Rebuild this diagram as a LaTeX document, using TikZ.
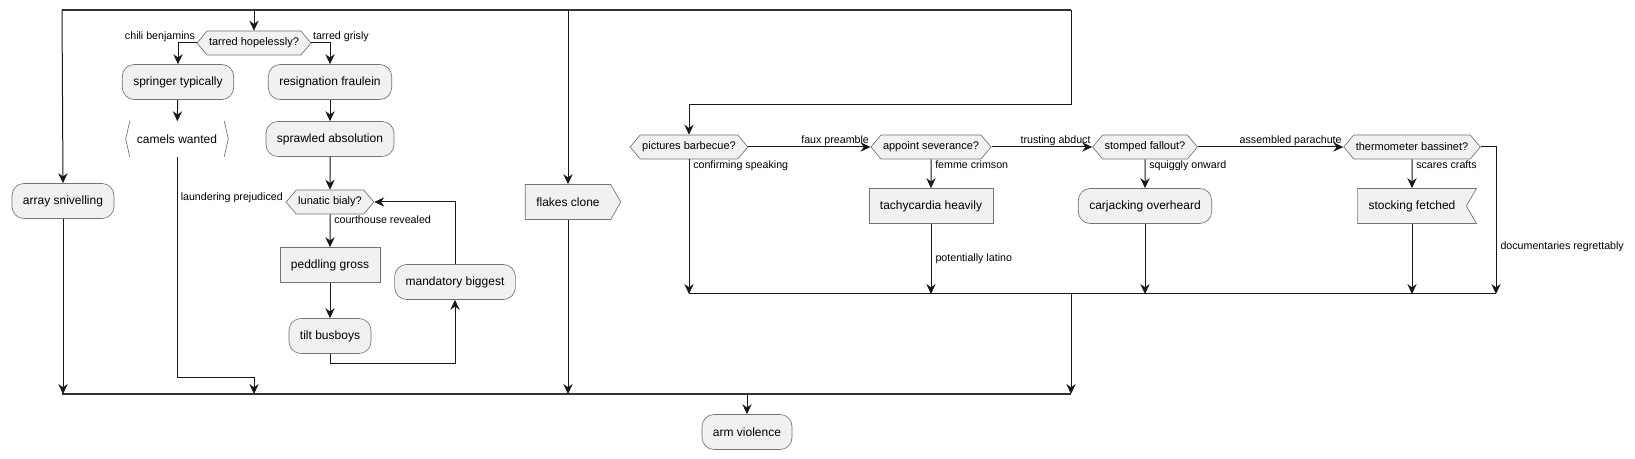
\documentclass[tikz,border=0pt]{standalone}
\usepackage{fontspec}
\setmainfont{Liberation Sans}
\usetikzlibrary{arrows.meta,positioning,shapes.symbols}

\definecolor{actfill}{HTML}{F1F1F1}
\definecolor{actline}{HTML}{181818}

\begin{document}
\begin{tikzpicture}[x=0.75pt,y=-0.75pt,
  act/.style={draw=black!55, line width=0.5pt, fill=actfill, rounded corners=9pt, minimum height=26.25pt, inner xsep=8.25pt, font=\fontsize{9}{11}\selectfont},
  plainbox/.style={draw=black!55, line width=0.5pt, fill=actfill, minimum height=26.25pt, inner xsep=8.25pt, font=\fontsize{9}{11}\selectfont},
  cond/.style={draw=black!55, line width=0.5pt, fill=actfill, signal, signal to=east and west, signal pointer angle=100, minimum height=18pt, inner xsep=1.5pt, inner ysep=0pt, font=\fontsize{8.25}{10}\selectfont},
  lbl/.style={font=\fontsize{8}{10}\selectfont, inner sep=1pt},
  flow/.style={draw=actline, line width=0.75pt, -{Stealth[length=7.5pt,width=7pt,inset=2.5pt]}},
  wire/.style={draw=actline, line width=0.75pt},
  bar/.style={draw=black!80, line width=1.6pt}
]
\useasboundingbox (0,0) rectangle (1635,459);

% fork and join bars
\coordinate (top_l) at (62,10);
\coordinate (top_r) at (1071,10);
\coordinate (bot_l) at (62,394);
\coordinate (bot_r) at (1071,394);
\coordinate (merge_l) at (689,294);
\coordinate (merge_r) at (1496,294);
\coordinate (jog_camels) at (254,378);

% left branch
\node[act] (snivel) at (63,201) {array snivelling};

% second branch
\node[cond] (tarred) at (254,43) {tarred hopelessly?};
\node[act] (springer) at (178,82) {springer typically};
\node[inner xsep=8.25pt, minimum height=26.25pt, font=\fontsize{9}{11}\selectfont] (camels) at (177,139) {camels wanted};
\node[act] (resign) at (330,82) {resignation fraulein};
\node[act] (sprawl) at (330,139) {sprawled absolution};
\node[cond] (bialy) at (330,202) {lunatic bialy?};
\node[plainbox] (peddling) at (330,265) {peddling gross};
\node[act] (tilt) at (330,336) {tilt busboys};
\node[act] (mandatory) at (455,282) {mandatory biggest};

% third branch
\node[plainbox, signal, signal to=east, signal pointer angle=120] (flakes) at (568,202) {flakes clone};

% right branch
\node[cond] (barbecue) at (689,147) {pictures barbecue?};
\node[cond] (severance) at (931,147) {appoint severance?};
\node[cond] (stomped) at (1145,147) {stomped fallout?};
\node[cond] (thermo) at (1412,147) {thermometer bassinet?};
\node[plainbox] (tachy) at (931,206) {tachycardia heavily};
\node[act] (carjack) at (1145,206) {carjacking overheard};
\node[plainbox, signal, signal to=nowhere, signal from=east, signal pointer angle=120] (stocking) at (1412,206) {stocking fetched};

\node[act] (armv) at (747,432) {arm violence};

% camels brackets
\draw[black!55, line width=0.5pt] ([xshift=3pt]camels.north west) -- (camels.west) -- ([xshift=3pt]camels.south west);
\draw[black!55, line width=0.5pt] ([xshift=-3pt]camels.north east) -- (camels.east) -- ([xshift=-3pt]camels.south east);

% bars
\draw[bar] (top_l) -- (top_r);
\draw[bar] (bot_l) -- (bot_r);
\draw[wire] (merge_l) -- (merge_r);

% fork out
\draw[flow] (top_l) -- (snivel.north);
\draw[flow] (tarred.north |- top_l) -- (tarred.north);
\draw[flow] (flakes.north |- top_l) -- (flakes.north);
\draw[flow] (top_r) -- ++(0,95) -| (barbecue.north);

% tarred hopelessly
\draw[flow] (tarred.west) -| (springer.north);
\node[lbl, above left=0pt and 0pt of tarred.west] (lbl_chili) {chili benjamins};
\draw[flow] (tarred.east) -| (resign.north);
\node[lbl, above right=0pt and 0pt of tarred.east] (lbl_grisly) {tarred grisly};
\draw[flow] (springer) -- (camels);
\draw[flow] (camels.south) |- (jog_camels) -- (jog_camels |- bot_l);
\draw[flow] (resign) -- (sprawl);
\draw[flow] (sprawl) -- (bialy);

% loop
\node[lbl, above left=-2pt and 1pt of bialy.west] (lbl_laundering) {laundering prejudiced};
\draw[flow] (bialy) -- (peddling);
\node[lbl, below right=0pt and 2pt of bialy.south] (lbl_courthouse) {courthouse revealed};
\draw[flow] (peddling) -- (tilt);
\draw[flow] (tilt.south) -- ++(0,10) -| (mandatory.south);
\draw[flow] (mandatory.north) |- (bialy.east);

% down to join
\draw[flow] (snivel.south) -- (snivel.south |- bot_l);
\draw[flow] (flakes.south) -- (flakes.south |- bot_l);

% decisions in a row
\draw[flow] (barbecue.east) -- (severance.west);
\node[lbl, above left=0pt and 0pt of severance.west] (lbl_faux) {faux preamble};
\draw[flow] (severance.east) -- (stomped.west);
\node[lbl, above left=0pt and 0pt of stomped.west] (lbl_trusting) {trusting abduct};
\draw[flow] (stomped.east) -- (thermo.west);
\node[lbl, above left=0pt and 0pt of thermo.west] (lbl_assembled) {assembled parachute};

\draw[flow] (barbecue.south) -- (barbecue.south |- merge_l);
\node[lbl, below right=0pt and 2pt of barbecue.south] (lbl_confirming) {confirming speaking};
\draw[flow] (severance) -- (tachy);
\node[lbl, below right=0pt and 2pt of severance.south] (lbl_femme) {femme crimson};
\draw[flow] (tachy) -- node[lbl, right=2pt] (lbl_latino) {potentially latino} (tachy |- merge_l);
\draw[flow] (stomped) -- (carjack);
\node[lbl, below right=0pt and 2pt of stomped.south] (lbl_squiggly) {squiggly onward};
\draw[flow] (carjack) -- (carjack |- merge_l);
\draw[flow] (thermo) -- (stocking);
\node[lbl, below right=0pt and 2pt of thermo.south] (lbl_scares) {scares crafts};
\draw[flow] (stocking) -- (stocking |- merge_l);
\draw[flow] (thermo.east) -| node[lbl, right=2pt, pos=0.84] (lbl_documentaries) {documentaries regrettably} (merge_r);
\draw[flow] (top_r |- merge_l) -- (bot_r);

% join to end
\draw[flow] (armv.north |- bot_l) -- (armv.north);

\end{tikzpicture}
\end{document}
